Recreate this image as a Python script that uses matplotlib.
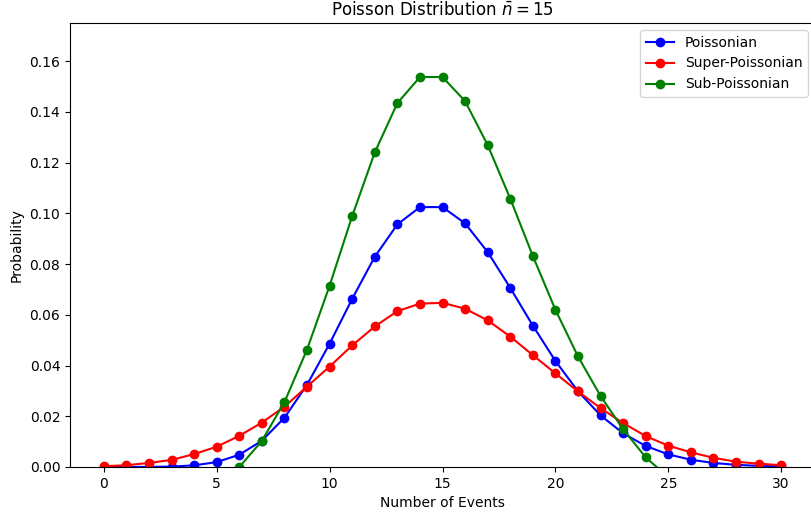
import matplotlib
matplotlib.use("Agg")
import matplotlib.pyplot as plt

k_values = list(range(0, 31))
poissonian = [3.1e-7, 4.6e-6, 3.44e-5, 1.72e-4, 6.45e-4, 0.00194, 0.00484, 0.01037, 0.01944,
              0.03240, 0.04861, 0.06629, 0.08286, 0.09560, 0.10244, 0.10244, 0.09603,
              0.08474, 0.07061, 0.05575, 0.04181, 0.02986, 0.02036, 0.01328, 0.00830,
              0.00498, 0.00287, 0.00160, 0.00086, 0.00044, 0.00022]
super_poissonian = [0.0003, 0.0007, 0.0016, 0.0028, 0.0051, 0.0080, 0.0123, 0.0175, 0.0238,
                    0.0317, 0.0396, 0.0479, 0.0554, 0.0614, 0.0644, 0.0647, 0.0624,
                    0.0578, 0.0514, 0.0441, 0.0369, 0.0298, 0.0232, 0.0173, 0.0122,
                    0.0084, 0.0058, 0.0036, 0.0021, 0.0013, 0.0007]
k_sub = list(range(6, 26))
sub_poissonian = [0.0, 0.0103, 0.0256, 0.0463, 0.0715, 0.0989, 0.1240, 0.1434, 0.1537,
                  0.1537, 0.1442, 0.1269, 0.1058, 0.0832, 0.0620, 0.0436, 0.0280,
                  0.0149, 0.0038, -0.0040]

fig = plt.figure(figsize=(8.11, 5.16), dpi=100)
ax = fig.add_axes([70/811, (516-467)/516, (815-70)/811, (467-23)/516])
ax.plot(k_values, poissonian, 'o-', color='blue', label='Poissonian')
ax.plot(k_values, super_poissonian, 'o-', color='red', label='Super-Poissonian')
ax.plot(k_sub, sub_poissonian, 'o-', color='green', label='Sub-Poissonian')
ax.set_xlim(-1.5, 31.5)
ax.set_ylim(0, 0.175)
ax.set_title(r'Poisson Distribution $\bar{n} = 15$')
ax.set_xlabel('Number of Events')
ax.set_ylabel('Probability')
ax.legend(loc='upper right')
fig.savefig('out.png', dpi=100)
